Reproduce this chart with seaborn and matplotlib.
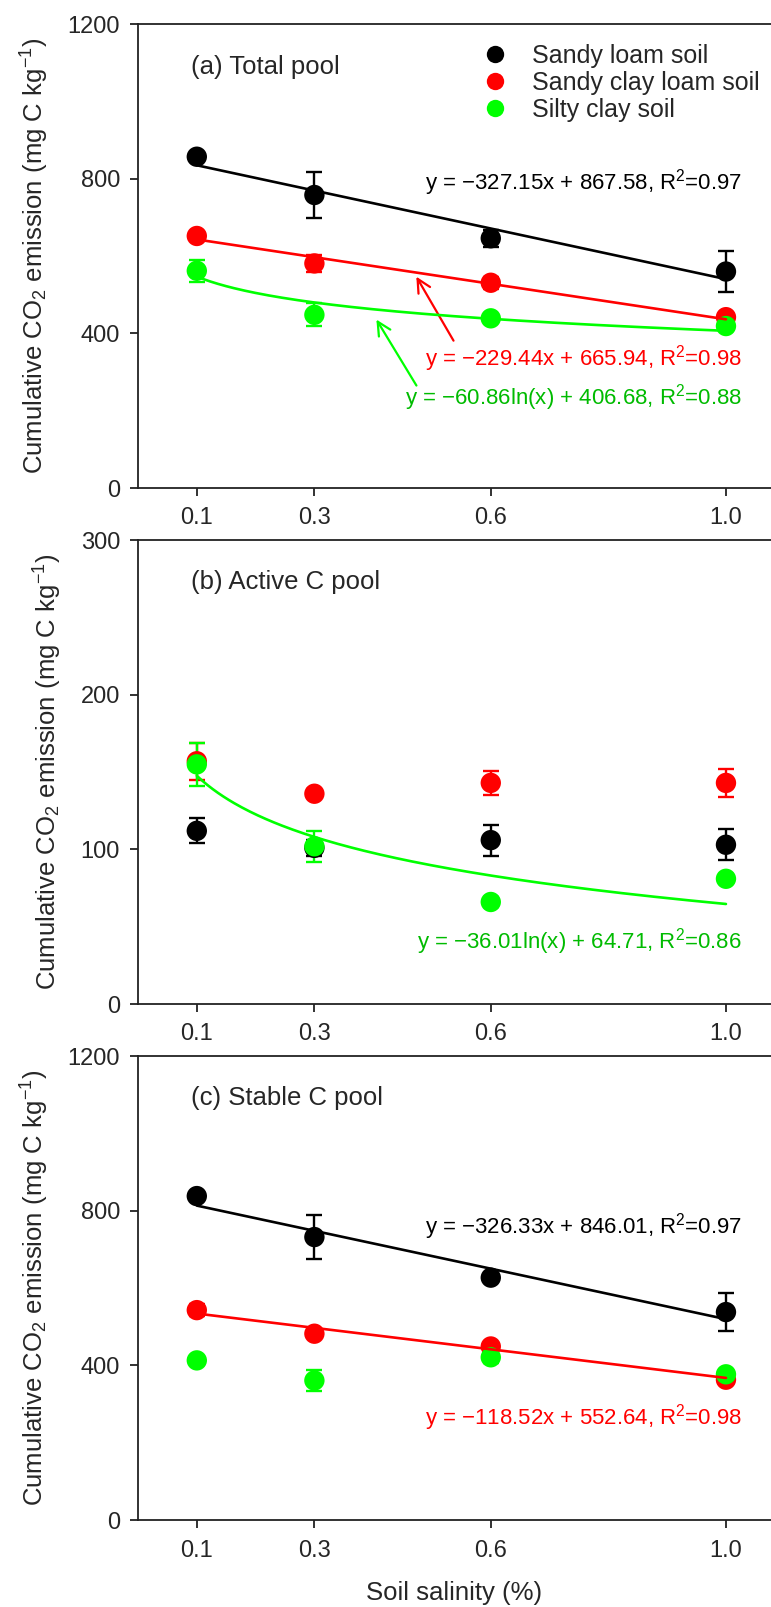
"""Cumulative CO2 emission vs soil salinity for three soils (three C pools)."""

import numpy as np
import pandas as pd
import matplotlib
matplotlib.use("Agg")
import matplotlib.pyplot as plt
import seaborn as sns

sns.set_theme(style="white")
plt.rcParams["font.family"] = ["Liberation Sans", "DejaVu Sans"]
plt.rcParams["mathtext.default"] = "regular"

# ---- data ----
salinity = [0.1, 0.3, 0.6, 1.0]
soils = ["Sandy loam soil", "Sandy clay loam soil", "Silty clay soil"]
colors = {"Sandy loam soil": "#000000", "Sandy clay loam soil": "#FF0000", "Silty clay soil": "#00FF00"}

total_sandy_loam = [857, 758, 646, 560]
total_sandy_loam_err = [8, 60, 22, 52]
total_sandy_clay_loam = [652, 581, 531, 442]
total_sandy_clay_loam_err = [10, 22, 16, 8]
total_silty_clay = [562, 448, 439, 419]
total_silty_clay_err = [28, 30, 8, 10]

active_sandy_loam = [112, 101, 106, 103]
active_sandy_loam_err = [8, 5, 10, 10]
active_sandy_clay_loam = [157, 136, 143, 143]
active_sandy_clay_loam_err = [12, 3, 8, 9]
active_silty_clay = [155, 102, 66, 81]
active_silty_clay_err = [14, 10, 3, 3]

stable_sandy_loam = [838, 732, 627, 538]
stable_sandy_loam_err = [8, 56, 10, 50]
stable_sandy_clay_loam = [543, 482, 449, 363]
stable_sandy_clay_loam_err = [15, 6, 10, 12]
stable_silty_clay = [413, 361, 421, 377]
stable_silty_clay_err = [12, 28, 14, 10]

# fitted curves as drawn: (soil, kind, slope, intercept, equation label)
# note: the stable-pool red line is drawn steeper than its printed equation
fits_total = [
    ("Sandy loam soil", "lin", -327.15, 867.58, "y = \u2212327.15x + 867.58, R$^2$=0.97"),
    ("Sandy clay loam soil", "lin", -229.44, 665.94, "y = \u2212229.44x + 665.94, R$^2$=0.98"),
    ("Silty clay soil", "log", -60.86, 406.68, "y = \u221260.86ln(x) + 406.68, R$^2$=0.88"),
]
fits_active = [
    ("Silty clay soil", "log", -36.01, 64.71, "y = \u221236.01ln(x) + 64.71, R$^2$=0.86"),
]
fits_stable = [
    ("Sandy loam soil", "lin", -326.33, 846.01, "y = \u2212326.33x + 846.01, R$^2$=0.97"),
    ("Sandy clay loam soil", "lin", -185.0, 552.64, "y = \u2212118.52x + 552.64, R$^2$=0.98"),
]

text_colors = {"Sandy loam soil": "#000000", "Sandy clay loam soil": "#FF0000", "Silty clay soil": "#00BB00"}


def make_frame(values, errors):
    rows = []
    for soil, vals, errs in zip(soils, values, errors):
        for x, v, e in zip(salinity, vals, errs):
            rows.append({"salinity": x, "value": v, "err": e, "soil": soil})
    return pd.DataFrame(rows)


df_total = make_frame([total_sandy_loam, total_sandy_clay_loam, total_silty_clay],
                      [total_sandy_loam_err, total_sandy_clay_loam_err, total_silty_clay_err])
df_active = make_frame([active_sandy_loam, active_sandy_clay_loam, active_silty_clay],
                       [active_sandy_loam_err, active_sandy_clay_loam_err, active_silty_clay_err])
df_stable = make_frame([stable_sandy_loam, stable_sandy_clay_loam, stable_silty_clay],
                       [stable_sandy_loam_err, stable_sandy_clay_loam_err, stable_silty_clay_err])

YLABEL = "Cumulative CO$_2$ emission (mg C kg$^{\u22121}$)"


def draw_panel(ax, df, fits, fit_text_y, ymax, yticks, title, title_y):
    for soil in soils:
        sub = df[df["soil"] == soil]
        ax.errorbar(sub["salinity"], sub["value"], yerr=sub["err"], fmt="none",
                    ecolor=colors[soil], elinewidth=1.7, capsize=6, capthick=1.7, zorder=2)
    sns.scatterplot(data=df, x="salinity", y="value", hue="soil", palette=colors,
                    hue_order=soils, s=215, edgecolor="none", legend=False, ax=ax, zorder=3)
    xs = np.linspace(0.1, 1.0, 200)
    for (soil, kind, a, b, label), ty in zip(fits, fit_text_y):
        ys = a * xs + b if kind == "lin" else a * np.log(xs) + b
        ax.plot(xs, ys, color=colors[soil], lw=1.9, zorder=4)
        ax.text(1.027, ty, label, color=text_colors[soil], fontsize=16,
                ha="right", va="center")
    ax.text(0.09, title_y, title, fontsize=18.5, ha="left", va="center")

    ax.set_xlim(0, 1.0766)
    ax.set_ylim(0, ymax)
    ax.set_xticks(salinity)
    ax.set_xticklabels(["0.1", "0.3", "0.6", "1.0"])
    ax.set_yticks(yticks)
    ax.tick_params(axis="both", direction="out", length=6, width=1.3, labelsize=17,
                   color="#222222", bottom=True, left=True)
    ax.tick_params(axis="y", pad=7)
    ax.tick_params(axis="x", pad=8)
    for side in ["left", "bottom", "top"]:
        ax.spines[side].set_linewidth(1.3)
        ax.spines[side].set_color("#222222")
    ax.spines["right"].set_visible(False)
    ax.set_xlabel("")
    ax.set_ylabel(YLABEL, fontsize=18.5, labelpad=12)


fig = plt.figure(figsize=(7.71, 16.07), dpi=100)
left, width, height = 0.179, 0.821, 0.2887
ax_a = fig.add_axes([left, 0.6963, width, height])
ax_b = fig.add_axes([left, 0.3752, width, height])
ax_c = fig.add_axes([left, 0.0541, width, height])

draw_panel(ax_a, df_total, fits_total, [789, 334, 235], 1200, [0, 400, 800, 1200],
           "(a) Total pool", 1089)
draw_panel(ax_b, df_active, fits_active, [40.3], 300, [0, 100, 200, 300],
           "(b) Active C pool", 273)
draw_panel(ax_c, df_stable, fits_stable, [760, 266], 1200, [0, 400, 800, 1200],
           "(c) Stable C pool", 1091)
ax_c.set_xlabel("Soil salinity (%)", fontsize=18.5, labelpad=14)

# arrows pointing from the equations to their curves (panel a)
ax_a.annotate("", xy=(0.471, 553), xytext=(0.539, 375),
              arrowprops=dict(arrowstyle="->", color="#FF0000", lw=1.6, mutation_scale=24))
ax_a.annotate("", xy=(0.403, 442), xytext=(0.476, 259),
              arrowprops=dict(arrowstyle="->", color="#00FF00", lw=1.6, mutation_scale=24))

# legend
handles = [plt.Line2D([], [], marker="o", ls="none", markersize=12.5,
                      markerfacecolor=colors[s], markeredgecolor="none") for s in soils]
ax_a.legend(handles, soils, loc="upper left", bbox_to_anchor=(0.52, 0.985),
            frameon=False, fontsize=18, handletextpad=0.9, labelspacing=0.12,
            borderpad=0, handlelength=1.2)

fig.savefig("out.png", dpi=100)
